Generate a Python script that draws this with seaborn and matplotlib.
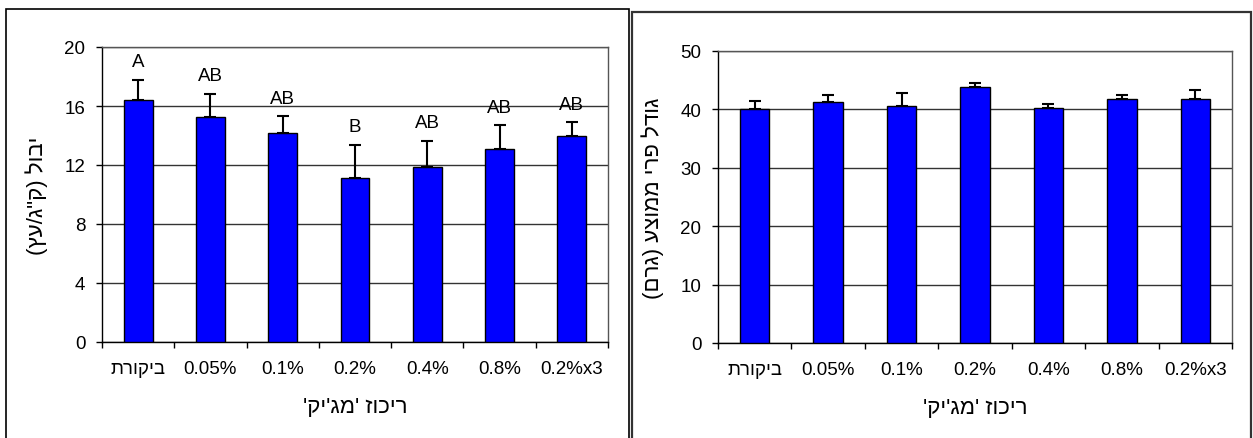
import matplotlib
matplotlib.use("Agg")
import matplotlib.pyplot as plt
from matplotlib.patches import Rectangle
import seaborn as sns
import pandas as pd
import numpy as np

# ---------------- data ----------------
categories = ["ביקורת", "0.05%", "0.1%", "0.2%", "0.4%", "0.8%", "0.2%x3"]
yield_mean = [16.38, 15.25, 14.19, 11.09, 11.86, 13.08, 13.97]
yield_err = [1.40, 1.58, 1.11, 2.27, 1.79, 1.60, 0.92]
yield_letters = ["A", "AB", "AB", "B", "AB", "AB", "AB"]
size_mean = [40.0, 41.35, 40.5, 43.8, 40.25, 41.7, 41.7]
size_err = [1.5, 1.15, 2.3, 0.7, 0.65, 0.7, 1.6]
yield_ticks = [0, 4, 8, 12, 16, 20]
size_ticks = [0, 10, 20, 30, 40, 50]
xlabel = "ריכוז 'מג'יק'"
ylabel_left = 'יבול (ק"ג/עץ)'
ylabel_right = "גודל פרי ממוצע (גרם)"


def vis(s):
    """Convert logical-order RTL text to visual order for matplotlib."""
    if not any('\u0590' <= c <= '\u05FF' for c in s):
        return s
    mirror = {'(': ')', ')': '('}
    return ''.join(mirror.get(c, c) for c in reversed(s))


sns.set_theme(style="white")
plt.rcParams['font.family'] = ['Liberation Sans', 'DejaVu Sans']

W, H = 1253, 439
fig = plt.figure(figsize=(W / 100, H / 100), dpi=100)
fig.patch.set_facecolor("white")

# panel frames
fig.add_artist(Rectangle((6 / W, -0.1), (629 - 6) / W, 1.1 - 10 / H,
                         transform=fig.transFigure, fill=False,
                         edgecolor="black", lw=1.2))
fig.add_artist(Rectangle((632 / W, -0.1), (1251 - 632) / W, 1.1 - 13 / H,
                         transform=fig.transFigure, fill=False,
                         edgecolor="#333333", lw=1.6))

ax1 = fig.add_axes([102 / W, (H - 343) / H, 506 / W, 295 / H])
ax2 = fig.add_axes([718 / W, (H - 344) / H, 514 / W, 292 / H])

FS = 13.5
LFS = 16


def draw(ax, means, errs, ticks, ylabel):
    df = pd.DataFrame({"cat": [vis(c) for c in categories], "val": means})
    sns.barplot(data=df, x="cat", y="val", ax=ax, color="#0000FF",
                saturation=1, width=0.4, edgecolor="black", linewidth=1,
                errorbar=None, zorder=3)
    xs = np.arange(len(means))
    ax.errorbar(xs, means, yerr=[np.zeros(len(errs)), errs], fmt="none",
                ecolor="black", elinewidth=1.5, capsize=4, capthick=1.5,
                zorder=4)
    ax.set_xlim(-0.5, len(means) - 0.5)
    ax.set_ylim(ticks[0], ticks[-1])
    ax.set_yticks(ticks)
    ax.yaxis.grid(True, color="#333333", lw=1)
    ax.set_axisbelow(True)
    ax.set_xticks(xs)
    ax.set_xticks(np.arange(-0.5, len(means), 1.0), minor=True)
    ax.tick_params(axis="x", which="major", length=0, pad=13, labelsize=FS,
                   colors="black")
    ax.tick_params(axis="x", which="minor", length=4, width=1, color="black",
                   direction="out", bottom=True)
    ax.tick_params(axis="y", length=4, width=1, color="black", direction="out",
                   left=True, labelsize=FS, pad=8, colors="black")
    for s in ["top", "right"]:
        ax.spines[s].set_color("#555555")
        ax.spines[s].set_linewidth(1)
    for s in ["left", "bottom"]:
        ax.spines[s].set_color("black")
        ax.spines[s].set_linewidth(1)
    ax.set_xlabel(vis(xlabel), fontsize=LFS, labelpad=14, color="black")
    ax.set_ylabel(vis(ylabel), fontsize=LFS, labelpad=12, color="black")


draw(ax1, yield_mean, yield_err, yield_ticks, ylabel_left)
draw(ax2, size_mean, size_err, size_ticks, ylabel_right)

for i, (m, e, lab) in enumerate(zip(yield_mean, yield_err, yield_letters)):
    ax1.annotate(lab, (i, m + e), xytext=(0, 13), textcoords="offset points",
                 ha="center", va="center", fontsize=FS, color="black")

fig.savefig("out.png", dpi=100, facecolor="white")
